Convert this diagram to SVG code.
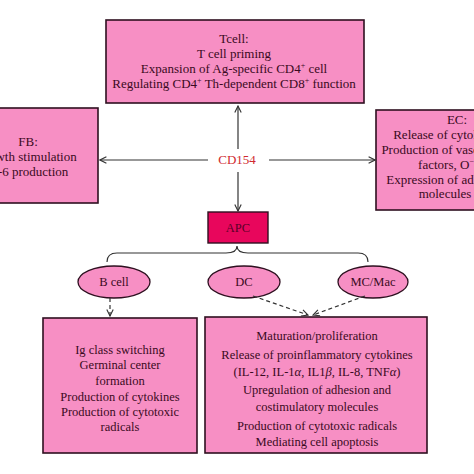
<svg xmlns="http://www.w3.org/2000/svg" width="474" height="474" viewBox="0 0 474 474">
<style>
.box{fill:#F78FC4;stroke:#2e1020;stroke-width:1.6}
.ell{fill:#F78FC4;stroke:#2e1020;stroke-width:1.3}
.t{font-family:"Liberation Serif","Times New Roman",serif;font-size:13px;fill:#3a0a22;text-anchor:middle}
.s{font-family:"Liberation Serif","Times New Roman",serif;font-size:12.5px;fill:#3a0a22;text-anchor:middle}
.ln{stroke:#333;stroke-width:1.2;fill:none}
.dash{stroke:#333;stroke-width:1.2;fill:none;stroke-dasharray:4,3}
</style>
<defs>
<marker id="ah" viewBox="0 0 10 10" refX="9" refY="5" markerWidth="8" markerHeight="8" markerUnits="userSpaceOnUse" orient="auto-start-reverse">
<path d="M1,1 L9,5 L1,9" fill="none" stroke="#333" stroke-width="1.4"/>
</marker>
</defs>
<rect width="474" height="474" fill="#fff"/>

<g id="tcell">
<rect class="box" x="106" y="20" width="258" height="83"/>
<text class="t" x="234" y="43">Tcell:</text>
<text class="t" x="234" y="58">T cell priming</text>
<text class="t" x="234" y="73">Expansion of Ag-specific CD4<tspan font-size="8" dy="-5">+</tspan><tspan dy="5"> cell</tspan></text>
<text class="t" x="234" y="88">Regulating CD4<tspan font-size="8" dy="-5">+</tspan><tspan dy="5"> Th-dependent CD8</tspan><tspan font-size="8" dy="-5">+</tspan><tspan dy="5"> function</tspan></text>
</g>

<g id="fb">
<rect class="box" x="-44" y="108" width="142" height="95"/>
<text class="t" x="28" y="146">FB:</text>
<text class="t" x="26" y="161">Growth stimulation</text>
<text class="t" x="27" y="176">IL-6 production</text>
</g>

<g id="ec">
<rect class="box" x="376" y="110" width="140" height="100"/>
<text class="t" x="457" y="124">EC:</text>
<text class="t" x="447" y="139">Release of cytokines</text>
<text class="t" x="446" y="154">Production of vasoactive</text>
<text class="t" x="446" y="169">factors, O<tspan font-size="8" dy="-5">−</tspan></text>
<text class="t" x="447" y="184">Expression of adhesion</text>
<text class="t" x="445" y="198">molecules</text>
</g>

<g id="cd154">
<text x="237" y="164" font-family="'Liberation Serif','Times New Roman',serif" font-size="13" fill="#d02a30" text-anchor="middle">CD154</text>
</g>

<g id="apc">
<rect x="208" y="212" width="60" height="31" fill="#E8065C" stroke="#2e1020" stroke-width="1.4"/>
<text x="238" y="232" font-family="'Liberation Serif','Times New Roman',serif" font-size="12.5" fill="#5a0028" text-anchor="middle">APC</text>
</g>

<g id="bcell">
<ellipse class="ell" cx="114" cy="282" rx="36" ry="16"/>
<text class="s" x="114" y="286">B cell</text>
</g>
<g id="dc">
<ellipse class="ell" cx="244" cy="282" rx="36" ry="16"/>
<text class="s" x="244" y="286">DC</text>
</g>
<g id="mcmac">
<ellipse class="ell" cx="373" cy="282" rx="35" ry="16"/>
<text class="s" x="373" y="286">MC/Mac</text>
</g>

<g id="bcell-effects">
<rect class="box" x="43" y="318" width="154" height="135"/>
<text class="s" x="120" y="354">Ig class switching</text>
<text class="s" x="120" y="369">Germinal center</text>
<text class="s" x="120" y="385">formation</text>
<text class="s" x="120" y="401">Production of cytokines</text>
<text class="s" x="120" y="416">Production of cytotoxic</text>
<text class="s" x="120" y="431">radicals</text>
</g>

<g id="dc-mac-effects">
<rect class="box" x="205" y="317" width="222" height="136"/>
<text class="s" x="317" y="340">Maturation/proliferation</text>
<text class="s" x="317" y="359">Release of proinflammatory cytokines</text>
<text class="s" x="317" y="376">(IL-12, IL-1<tspan font-style="italic">α</tspan>, IL1<tspan font-style="italic">β</tspan>, IL-8, TNF<tspan font-style="italic">α</tspan>)</text>
<text class="s" x="317" y="394">Upregulation of adhesion and</text>
<text class="s" x="317" y="411">costimulatory molecules</text>
<text class="s" x="317" y="430">Production of cytotoxic radicals</text>
<text class="s" x="317" y="446">Mediating cell apoptosis</text>
</g>

<g id="connectors">
<line class="ln" x1="238" y1="149" x2="238" y2="106" marker-end="url(#ah)"/>
<line class="ln" x1="238" y1="172" x2="238" y2="211" marker-end="url(#ah)"/>
<line class="ln" x1="208" y1="160" x2="100" y2="160" marker-end="url(#ah)"/>
<line class="ln" x1="269" y1="160" x2="375" y2="160" marker-end="url(#ah)"/>
<path class="ln" d="M107,262 Q107,253 117,253 L226,253 Q237,253 237,246 Q237,253 248,253 L358,253 Q368,253 368,262"/>
<line class="dash" x1="110" y1="298" x2="110" y2="316" marker-end="url(#ah)"/>
<line class="dash" x1="253" y1="296" x2="308" y2="315" marker-end="url(#ah)"/>
<line class="dash" x1="365" y1="296" x2="313" y2="315" marker-end="url(#ah)"/>
</g>
</svg>
